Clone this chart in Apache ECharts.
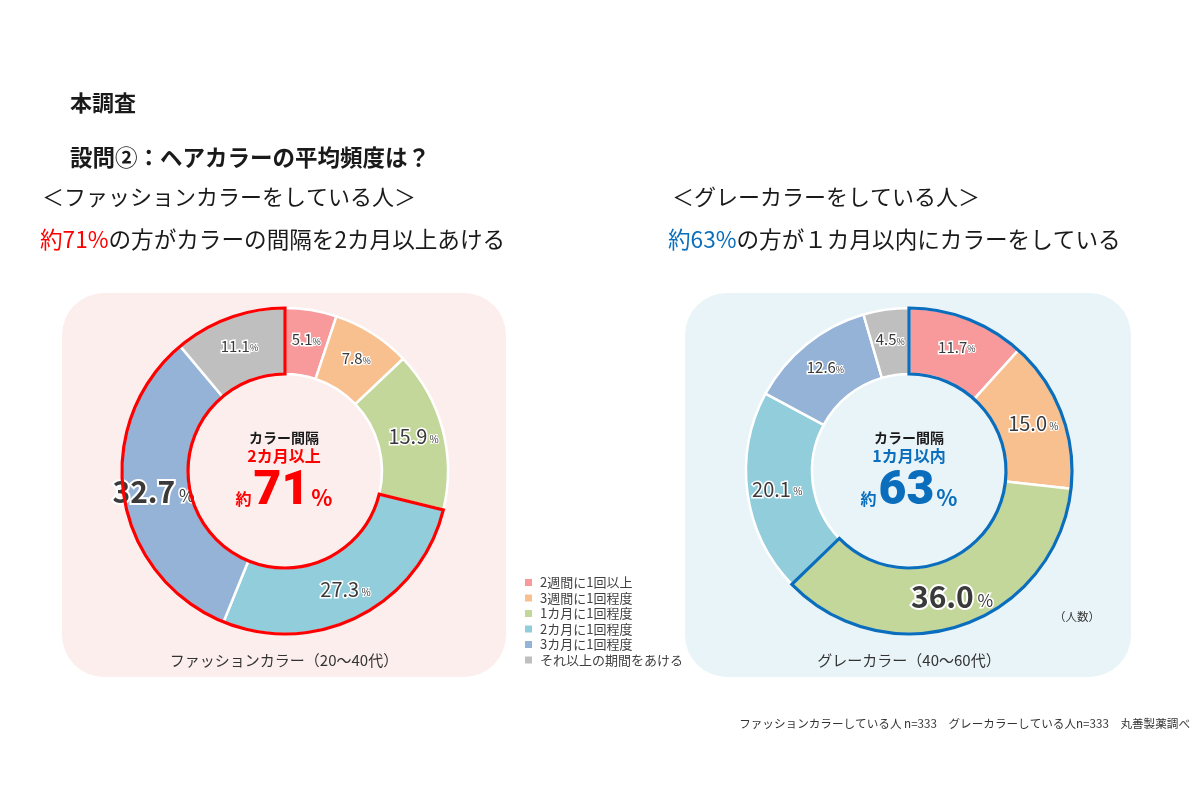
<!DOCTYPE html>
<html><head><meta charset="utf-8">
<script src="https://cdn.jsdelivr.net/npm/echarts@6/dist/echarts.min.js"></script>
<style>html,body{margin:0;padding:0;background:#fff}#c{width:1200px;height:800px}</style>
</head><body><div id="c"></div>
<script>
const categories = ['2週間に1回以上','3週間に1回程度','1カ月に1回程度','2カ月に1回程度','3カ月に1回程度','それ以上の期間をあける'];
const fashionValues = [5.1, 7.8, 15.9, 27.3, 32.7, 11.1];
const grayValues = [11.7, 15.0, 36.0, 20.1, 12.6, 4.5];
const fashionHighlighted = [3, 4, 5];
const grayHighlighted = [0, 1, 2];

const colors = ['#f8999b','#f9c08f','#c4d79b','#92cddc','#95b3d7','#bfbfbf'];
const FONT = '"Noto Sans CJK JP", sans-serif';
const RED = '#ff0000';
const BLUE = '#0a6ebd';

function labelFormatter(values) {
  const mx = Math.max(...values);
  return function (p) {
    const v = p.value.toFixed(1);
    if (p.value === mx) return '{bv|' + v + '}{bp| %}';
    if (p.value >= 15) return '{mv|' + v + '}{mp| %}';
    return '{sv|' + v + '}{sp|%}';
  };
}
const labelRich = {
  bv: {fontSize: 30, fontWeight: 'bold', color: '#3a3a3a', fontFamily: FONT, textBorderColor: '#fff', textBorderWidth: 4},
  bp: {fontSize: 17, color: '#3a3a3a', fontFamily: FONT, textBorderColor: '#fff', textBorderWidth: 3, padding: [8, 0, 0, 0]},
  mv: {fontSize: 20, color: '#3a3a3a', fontFamily: FONT, textBorderColor: '#fff', textBorderWidth: 3},
  mp: {fontSize: 10, color: '#3a3a3a', fontFamily: FONT, textBorderColor: '#fff', textBorderWidth: 2, padding: [5, 0, 0, 0]},
  sv: {fontSize: 15, color: '#3a3a3a', fontFamily: FONT, textBorderColor: '#fff', textBorderWidth: 3},
  sp: {fontSize: 9, color: '#3a3a3a', fontFamily: FONT, textBorderColor: '#fff', textBorderWidth: 2, padding: [4, 0, 0, 0]}
};

function mainPie(values, center) {
  return {
    type: 'pie', center: center, radius: [97, 163], startAngle: 90, clockwise: true,
    avoidLabelOverlap: false, silent: true, z: 2,
    itemStyle: {borderColor: '#fff', borderWidth: 2.5},
    label: {show: true, position: 'inside', formatter: labelFormatter(values), rich: labelRich},
    labelLine: {show: false},
    emphasis: {disabled: true},
    data: categories.map((c, i) => ({name: c, value: values[i], itemStyle: {color: colors[i]}}))
  };
}

function outlinePie(values, highlighted, center, color) {
  const runs = [];
  values.forEach((v, i) => {
    const on = highlighted.includes(i);
    if (runs.length && runs[runs.length - 1].on === on) runs[runs.length - 1].value += v;
    else runs.push({on: on, value: v});
  });
  return {
    type: 'pie', center: center, radius: [97, 163], startAngle: 90, clockwise: true,
    silent: true, z: 3, label: {show: false}, labelLine: {show: false}, emphasis: {disabled: true},
    data: runs.map((r, k) => ({
      name: 'run' + k, value: +r.value.toFixed(1),
      itemStyle: r.on ? {color: 'rgba(0,0,0,0)', borderColor: color, borderWidth: 3.2, borderJoin: 'miter'}
                      : {color: 'rgba(0,0,0,0)', borderWidth: 0}
    }))
  };
}

const L = [285, 471], R = [909, 471];

const chart = echarts.init(document.getElementById('c'), null, {renderer: 'canvas'});
chart.setOption({
  backgroundColor: '#ffffff',
  animation: false,
  legend: {
    show: true, orient: 'vertical', left: 518, top: 571,
    itemWidth: 9, itemHeight: 9, itemGap: 2.5, icon: 'rect',
    textStyle: {fontSize: 13, color: '#404040', fontFamily: FONT, padding: [0, 0, 0, 2]},
    data: categories.map((c, i) => ({name: c, itemStyle: {color: colors[i]}})),
    selectedMode: false
  },
  series: [
    mainPie(fashionValues, L),
    outlinePie(fashionValues, fashionHighlighted, L, RED),
    mainPie(grayValues, R),
    outlinePie(grayValues, grayHighlighted, R, BLUE)
  ],
  graphic: [
    {type: 'rect', z: -10, shape: {x: 62, y: 293, width: 444, height: 384, r: 42}, style: {fill: '#fdeeee'}},
    {type: 'rect', z: -10, shape: {x: 685, y: 293, width: 446, height: 384, r: 42}, style: {fill: '#e9f4f8'}},

    {type: 'text', x: 70, y: 103, style: {text: '本調査', font: 'bold 22px ' + FONT, fill: '#1a1a1a', textVerticalAlign: 'middle'}},
    {type: 'text', x: 70, y: 157, style: {text: '設問②：ヘアカラーの平均頻度は？', font: 'bold 22.5px ' + FONT, fill: '#1a1a1a', textVerticalAlign: 'middle'}},
    {type: 'text', x: 42, y: 197, style: {text: '＜ファッションカラーをしている人＞', font: '22px ' + FONT, fill: '#1a1a1a', textVerticalAlign: 'middle'}},
    {type: 'text', x: 40, y: 239, style: {
      text: '{r|約71%}{k|の方がカラーの間隔を2カ月以上あける}', textVerticalAlign: 'middle',
      rich: {r: {fill: RED, fontSize: 22.6, fontFamily: FONT}, k: {fill: '#1a1a1a', fontSize: 22.6, fontFamily: FONT}}}},
    {type: 'text', x: 672, y: 197, style: {text: '＜グレーカラーをしている人＞', font: '22px ' + FONT, fill: '#1a1a1a', textVerticalAlign: 'middle'}},
    {type: 'text', x: 668, y: 239, style: {
      text: '{r|約63%}{k|の方が１カ月以内にカラーをしている}', textVerticalAlign: 'middle',
      rich: {r: {fill: BLUE, fontSize: 22.6, fontFamily: FONT}, k: {fill: '#1a1a1a', fontSize: 22.6, fontFamily: FONT}}}},

    {type: 'text', x: 284, y: 438, z: 5, style: {text: 'カラー間隔', font: 'bold 14px ' + FONT, fill: '#1a1a1a', textAlign: 'center', textVerticalAlign: 'middle'}},
    {type: 'text', x: 284, y: 456, z: 5, style: {text: '2カ月以上', font: 'bold 16px ' + FONT, fill: RED, textAlign: 'center', textVerticalAlign: 'middle'}},
    {type: 'text', x: 284, y: 492, z: 5, style: {
      text: '{a|約}{b|71}{c|%}', textAlign: 'center', textVerticalAlign: 'middle',
      rich: {a: {fill: RED, fontSize: 16, fontWeight: 'bold', fontFamily: FONT, padding: [14, 2, 0, 0]},
             b: {fill: RED, fontSize: 48, fontWeight: 900, fontFamily: 'Roboto, ' + FONT},
             c: {fill: RED, fontSize: 22, fontWeight: 'bold', fontFamily: FONT, padding: [12, 0, 0, 2]}}}},
    {type: 'text', x: 909, y: 438, z: 5, style: {text: 'カラー間隔', font: 'bold 14px ' + FONT, fill: '#1a1a1a', textAlign: 'center', textVerticalAlign: 'middle'}},
    {type: 'text', x: 909, y: 456, z: 5, style: {text: '1カ月以内', font: 'bold 16px ' + FONT, fill: BLUE, textAlign: 'center', textVerticalAlign: 'middle'}},
    {type: 'text', x: 909, y: 492, z: 5, style: {
      text: '{a|約}{b|63}{c|%}', textAlign: 'center', textVerticalAlign: 'middle',
      rich: {a: {fill: BLUE, fontSize: 16, fontWeight: 'bold', fontFamily: FONT, padding: [14, 2, 0, 0]},
             b: {fill: BLUE, fontSize: 48, fontWeight: 900, fontFamily: 'Roboto, ' + FONT},
             c: {fill: BLUE, fontSize: 22, fontWeight: 'bold', fontFamily: FONT, padding: [12, 0, 0, 2]}}}},

    {type: 'text', x: 284, y: 660, style: {text: 'ファッションカラー（20〜40代）', font: '15px ' + FONT, fill: '#333', textAlign: 'center', textVerticalAlign: 'middle'}},
    {type: 'text', x: 909, y: 660, style: {text: 'グレーカラー（40〜60代）', font: '15px ' + FONT, fill: '#333', textAlign: 'center', textVerticalAlign: 'middle'}},
    {type: 'text', x: 1077, y: 617, style: {text: '（人数）', font: '11.5px ' + FONT, fill: '#333', textAlign: 'center', textVerticalAlign: 'middle'}},
    {type: 'text', x: 1190, y: 724, style: {text: 'ファッションカラーしている人 n=333　グレーカラーしている人n=333　丸善製薬調べ', font: '11.6px ' + FONT, fill: '#333', textAlign: 'right', textVerticalAlign: 'middle'}}
  ]
});
</script></body></html>
